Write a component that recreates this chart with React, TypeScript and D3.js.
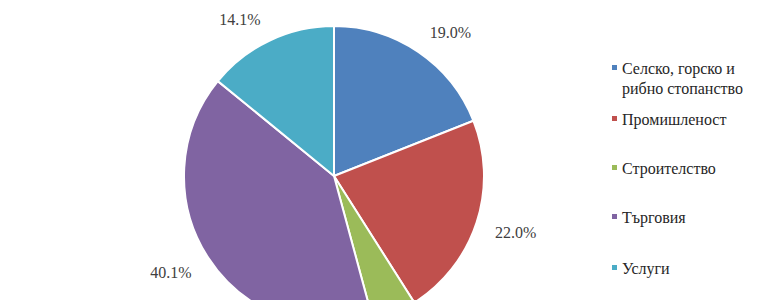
import React from "react";
import * as d3 from "d3";

const categories = ["Селско, горско и рибно стопанство", "Промишленост", "Строителство", "Търговия", "Услуги"];
const legendLines = [["Селско, горско и", "рибно стопанство"], ["Промишленост"], ["Строителство"], ["Търговия"], ["Услуги"]];
const values = [19.0, 22.0, 4.8, 40.1, 14.1];
const labels = ["19.0%", "22.0%", "", "40.1%", "14.1%"];
const colors = ["#4F81BD", "#C0504D", "#9BBB59", "#8064A2", "#4BACC6"];

const W = 760, H = 300;
const cx = 334, cy = 176, R = 150;
const font = "'Liberation Serif', 'Times New Roman', serif";

export default function App() {
  const pie = d3.pie<number>().sort(null).value((d) => d)(values);
  const arc = d3.arc<d3.PieArcDatum<number>>().innerRadius(0).outerRadius(R);
  const legendY = [68, 119, 168, 217, 268];
  return (
    <svg width={W} height={H} style={{ position: "absolute", left: 0, top: 0, background: "#fff" }} fontFamily={font}>
      <g transform={`translate(${cx},${cy})`}>
        {pie.map((p, i) => (
          <path key={i} d={arc(p) || ""} fill={colors[i]} stroke="#fff" strokeWidth={2} strokeLinejoin="round" />
        ))}
        {pie.map((p, i) => {
          if (!labels[i]) return null;
          const a = (p.startAngle + p.endAngle) / 2;
          const ux = Math.sin(a), uy = -Math.cos(a);
          const rr = 168;
          const x = rr * ux + Math.sign(ux) * 22;
          const y = rr * uy + Math.sign(uy) * 5;
          return (
            <text key={"l" + i} x={x} y={y} textAnchor="middle" dominantBaseline="central" fontSize={16} fill="#404040">
              {labels[i]}
            </text>
          );
        })}
      </g>
      <g>
        {legendLines.map((lines, i) => (
          <g key={i}>
            <rect x={612} y={legendY[i] - 3} width={5} height={5} fill={colors[i]} />
            {lines.map((t, j) => (
              <text key={j} x={622} y={legendY[i] + j * 20} dominantBaseline="central" fontSize={16} fill="#262626">
                {t}
              </text>
            ))}
          </g>
        ))}
      </g>
    </svg>
  );
}
